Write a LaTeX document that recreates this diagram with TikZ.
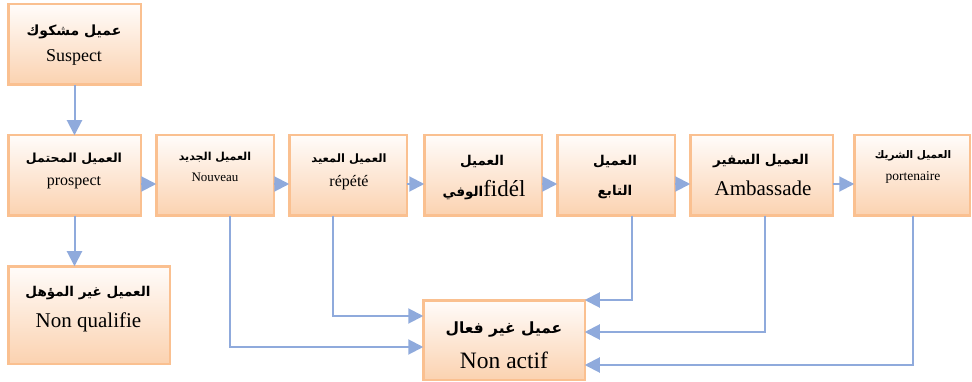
\documentclass[tikz,border=0pt]{standalone}
\usepackage{fontspec}
\setmainfont{Liberation Serif}
\newfontfamily\arabicfont[Script=Arabic]{DejaVu Sans}
\TeXXeTstate=1
\usetikzlibrary{arrows.meta,calc}
\definecolor{boxline}{RGB}{250,192,144}
\definecolor{boxtop}{RGB}{255,252,250}
\definecolor{boxbot}{RGB}{251,210,176}
\definecolor{arrowblue}{RGB}{143,170,220}
\tikzset{
  box/.style={draw=boxline, line width=2.5pt, top color=boxtop, bottom color=boxbot,
    inner sep=0pt, outer sep=0pt, rectangle},
  arr/.style={draw=arrowblue, line width=2pt, -{Triangle[length=15pt,width=15pt]}},
  ar/.style={inner sep=0pt, font=\arabicfont\bfseries\fontsize{#1}{#1}\selectfont},
  la/.style={inner sep=0pt, font=\fontsize{#1}{#1}\selectfont},
}
\begin{document}
\begin{tikzpicture}[x=1pt,y=-1pt]
\useasboundingbox (0,0) rectangle (972,382);
% boxes
\node[box, minimum width=132.5pt, minimum height=80.5pt] (suspect) at (74.5,44.5) {};
\node[box, minimum width=132.5pt, minimum height=80.5pt] (prospect) at (74.5,175.5) {};
\node[box, minimum width=117.5pt, minimum height=80.5pt] (nouveau) at (215,175.5) {};
\node[box, minimum width=117.5pt, minimum height=80.5pt] (repete) at (348,175.5) {};
\node[box, minimum width=117.5pt, minimum height=80.5pt] (fidel) at (483,175.5) {};
\node[box, minimum width=117.5pt, minimum height=80.5pt] (tabi) at (616,175.5) {};
\node[box, minimum width=142.5pt, minimum height=80.5pt] (ambassade) at (761.5,175.5) {};
\node[box, minimum width=115.5pt, minimum height=80.5pt] (partenaire) at (912,175.5) {};
\node[box, minimum width=161.5pt, minimum height=97.5pt] (nonqual) at (89,315) {};
\node[box, minimum width=161.5pt, minimum height=79.5pt] (nonactif) at (504,340) {};
% texts
\node[ar=14] (suspectA) at (74,32) {\beginR عميل مشكوك\endR};
\node[la=18] (suspectL) at (74,57) {Suspect};
\node[ar=12.5] (prospectA) at (74,159) {\beginR العميل المحتمل\endR};
\node[la=16] (prospectL) at (74,183) {prospect};
\node[ar=11] (nouveauA) at (215,157) {\beginR العميل الجديد\endR};
\node[la=13] (nouveauL) at (215,177) {Nouveau};
\node[ar=11.5] (repeteA) at (349,159) {\beginR العميل المعيد\endR};
\node[la=16] (repeteL) at (349,183) {répété};
\node[ar=13.5] (fidelA) at (482,162) {\beginR العميل\endR};
\node[inner sep=0pt] (fidelL) at (484,190) {{\arabicfont\bfseries\fontsize{13.5}{13.5}\selectfont\beginR الوفي\endR}{\fontsize{23}{23}\selectfont fidél}};
\node[ar=13.5] (tabiA) at (615,162) {\beginR العميل\endR};
\node[ar=13.5] (tabiB) at (615,192) {\beginR التابع\endR};
\node[ar=13.5] (ambassadeA) at (761,161) {\beginR العميل السفير\endR};
\node[la=21] (ambassadeL) at (763,188) {Ambassade};
\node[ar=10.5] (partenaireA) at (913,156) {\beginR العميل الشريك\endR};
\node[la=13.5] (partenaireL) at (913,177) {portenaire};
\node[ar=13.5] (nonqualA) at (88,293) {\beginR العميل غير المؤهل\endR};
\node[la=21] (nonqualL) at (88.5,322) {Non qualifie};
\node[ar=15.5] (nonactifA) at (504,330) {\beginR عميل غير فعال\endR};
\node[la=23.5] (nonactifL) at (504,360) {Non actif};
% connectors
\draw[arr] (suspect.south) -- (prospect.north);
\draw[arr] (prospect.south) -- (prospect.south |- nonqual.north);
\draw[arr] ($(prospect.east)+(0,8.5)$) -- ($(nouveau.west)+(0,8.5)$);
\draw[arr] ($(nouveau.east)+(0,8.5)$) -- ($(repete.west)+(0,8.5)$);
\draw[arr] ($(repete.east)+(0,8.5)$) -- ($(fidel.west)+(0,8.5)$);
\draw[arr] ($(fidel.east)+(0,8.5)$) -- ($(tabi.west)+(0,8.5)$);
\draw[arr] ($(tabi.east)+(0,8.5)$) -- ($(ambassade.west)+(0,8.5)$);
\draw[arr] ($(ambassade.east)+(0,8.5)$) -- ($(partenaire.west)+(0,8.5)$);
\draw[arr] ($(nouveau.south)+(15,0)$) |- ($(nonactif.west)+(0,7)$);
\draw[arr] ($(repete.south)+(-15,0)$) |- ($(nonactif.west)+(0,-24)$);
\draw[arr] ($(tabi.south)+(16,0)$) |- ($(nonactif.east)+(0,-40)$);
\draw[arr] ($(ambassade.south)+(3.5,0)$) |- ($(nonactif.east)+(0,-8)$);
\draw[arr] ($(partenaire.south)+(1,0)$) |- ($(nonactif.east)+(0,25)$);
\end{tikzpicture}
\end{document}
